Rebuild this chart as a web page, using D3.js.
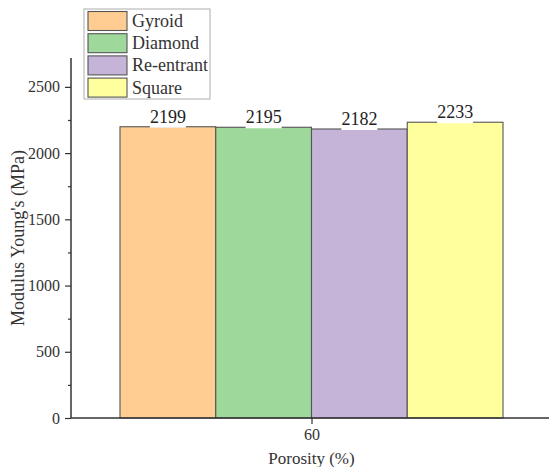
<!DOCTYPE html>
<html>
<head>
<meta charset="utf-8">
<script src="https://cdn.jsdelivr.net/npm/d3@7"></script>
<style>
  html, body { margin: 0; padding: 0; background: #fff; }
</style>
</head>
<body>
<div id="chart"></div>
<script>
// Module d'Young à 60 % de porosité, par type de cellule
const structures = ["Gyroid", "Diamond", "Re-entrant", "Square"];
const modulus = [2199, 2195, 2182, 2233];
const porosity = ["60"];
const yTicks = [0, 500, 1000, 1500, 2000, 2500];
const yMinor = [250, 750, 1250, 1750, 2250];
const colors = ["#ffcc91", "#9ed89b", "#c6b3d8", "#ffff9e"];

const width = 549, height = 467;
const margin = {top: 58, right: 0, bottom: 49, left: 71};
const innerW = width - margin.left - margin.right;
const innerH = height - margin.top - margin.bottom;
const font = '"Liberation Serif"';

const svg = d3.select("#chart").append("svg")
  .attr("width", width).attr("height", height);

const g = svg.append("g").attr("transform", `translate(${margin.left},${margin.top})`);

const y = d3.scaleLinear().domain([0, 2718]).range([innerH, 0]);
// Groupe unique "60" : les quatre barres côte à côte
const x0 = d3.scaleBand().domain(porosity).range([49, 432]).padding(0);
const x1 = d3.scaleBand().domain(structures).range([0, x0.bandwidth()]);
const xc = x0("60") + x0.bandwidth() / 2;

// Barres
const bars = g.append("g").attr("transform", `translate(${x0("60")},0)`);
structures.forEach((s, i) => {
  bars.append("rect")
    .attr("x", x1(s)).attr("y", y(modulus[i]))
    .attr("width", x1.bandwidth()).attr("height", innerH - y(modulus[i]))
    .attr("fill", colors[i]).attr("stroke", "#555").attr("stroke-width", 1.1);
});

// Étiquettes de valeur sur fond blanc (style Origin)
structures.forEach((s, i) => {
  const cx = x1(s) + x1.bandwidth() / 2;
  const t = bars.append("text")
    .attr("x", cx).attr("y", y(modulus[i]) - 4)
    .attr("text-anchor", "middle").attr("font-size", 18).attr("fill", "#222")
    .style("font-family", font)
    .text(modulus[i]);
  const bb = t.node().getBBox();
  bars.insert("rect", "text")
    .attr("x", bb.x).attr("y", bb.y)
    .attr("width", bb.width).attr("height", bb.height + 1)
    .attr("fill", "#fff");
});

// Axe Y avec graduations mineures
const yAxis = g.append("g")
  .call(d3.axisLeft(y).tickValues(yTicks).tickSize(6).tickPadding(5).tickFormat(d3.format("d")))
  .call(a => a.select(".domain").attr("d", `M0,${innerH}V0`));
g.append("g")
  .call(d3.axisLeft(y).tickValues(yMinor).tickSize(3).tickFormat(""))
  .call(a => a.select(".domain").remove());
g.selectAll(".tick line").attr("stroke", "#333").attr("stroke-width", 1.2);
yAxis.select(".domain").attr("stroke", "#333").attr("stroke-width", 1.5);
yAxis.selectAll("text").attr("font-size", 16).attr("fill", "#333").style("font-family", font);

// Axe X
const xAxis = g.append("g").attr("transform", `translate(0,${innerH})`)
  .call(d3.axisBottom(d3.scalePoint().domain(porosity).range([xc, xc])).tickSize(6).tickPadding(5))
  .call(a => a.select(".domain").attr("d", `M0,0H${innerW}`).attr("stroke", "#333").attr("stroke-width", 1.5));
xAxis.selectAll(".tick line").attr("stroke", "#333").attr("stroke-width", 1.2);
xAxis.selectAll("text").attr("font-size", 16).attr("fill", "#333").style("font-family", font);

// Titres d'axes
svg.append("text")
  .attr("x", margin.left + xc).attr("y", 464)
  .attr("text-anchor", "middle").attr("font-size", 17).attr("fill", "#333")
  .style("font-family", font)
  .text("Porosity (%)");
svg.append("text")
  .attr("transform", `translate(24,238) rotate(-90)`)
  .attr("text-anchor", "middle").attr("font-size", 18).attr("fill", "#333")
  .style("font-family", font)
  .text("Modulus Young's (MPa)");

// Légende
const legend = svg.append("g").attr("transform", "translate(84,9)");
legend.append("rect")
  .attr("width", 126).attr("height", 90)
  .attr("fill", "#fff").attr("stroke", "#bbb").attr("stroke-width", 1.2);
structures.forEach((s, i) => {
  legend.append("rect")
    .attr("x", 4).attr("y", 2.5 + i * 22.2)
    .attr("width", 39).attr("height", 19)
    .attr("fill", colors[i]).attr("stroke", "#555").attr("stroke-width", 1.1);
  legend.append("text")
    .attr("x", 48).attr("y", 18 + i * 22.2)
    .attr("font-size", 18).attr("fill", "#333")
    .style("font-family", font)
    .text(s);
});
</script>
</body>
</html>
